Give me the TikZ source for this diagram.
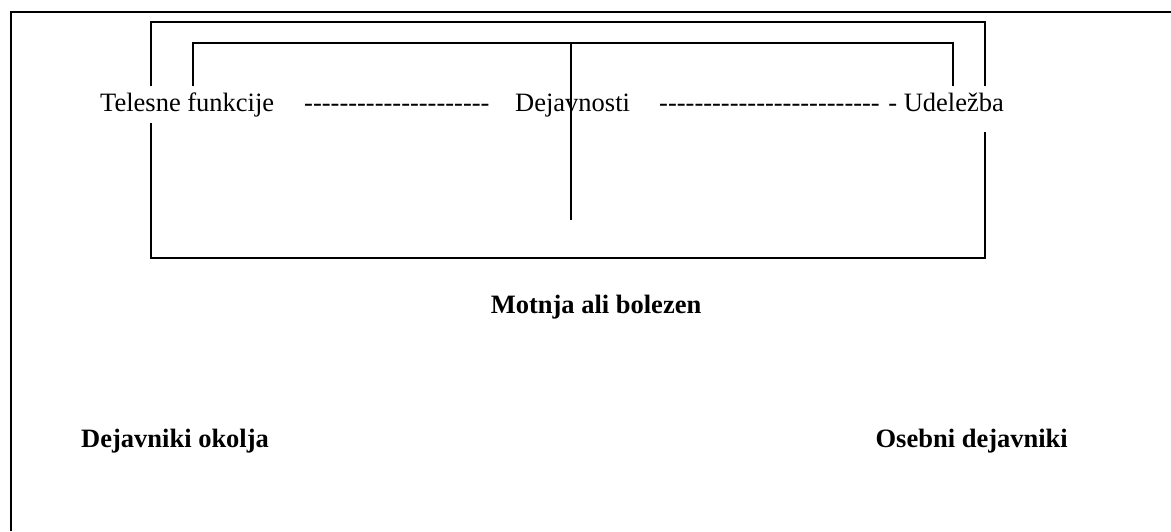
\documentclass[tikz,border=0pt]{standalone}
\usepackage{fontspec}
\setmainfont{Liberation Serif}[Ligatures=TeXOff]
\begin{document}
\begin{tikzpicture}[x=1pt,y=-1pt,
  label/.style={inner sep=0pt,font=\fontsize{26.5}{30}\selectfont},
  boldlabel/.style={inner sep=0pt,font=\fontsize{26.5}{30}\selectfont\bfseries},
  frameline/.style={line width=2pt},
  boxline/.style={line width=1.8pt},
  linkline/.style={line width=1.4pt}]
\useasboundingbox (0,0) rectangle (1171,531);

% page frame (left and top edges)
\draw[frameline] (10.7,531) -- (10.7,12) -- (1171,12);

% ICF components on one line
\node[label,anchor=base west] (tf) at (100,111) {Telesne funkcije};
\node[label,anchor=base west] (d1) at (304,111) {---------------------};
\node[label,anchor=base west] (dej) at (515,111) {Dejavnosti};
\node[label,anchor=base west] (d2) at (659,111) {-------------------------};
\node[label,anchor=base east] (ude) at (1004,111) {- Udeležba};

% outer bracket around the three components
\coordinate (bl1) at (151,86);
\coordinate (bl2) at (151,123);
\coordinate (br1) at (985,86);
\coordinate (br2) at (985,132);
\draw[boxline] (bl1) -- (151,22) -- (985,22) -- (br1);
\draw[boxline] (bl2) -- (151,258) -- (985,258) -- (br2);

% inner bracket linking body functions, activities and participation
\coordinate (il) at (193,86);
\coordinate (ir) at (953,86);
\coordinate (mtop) at (571,43);
\coordinate (mbot) at (571,220);
\draw[linkline] (il) -- (193,43) -- (953,43) -- (ir);
\draw[line width=1.6pt] (mtop) -- (mbot);

% health condition and contextual factors
\node[boldlabel,anchor=base] (mab) at (596,313) {Motnja ali bolezen};
\node[boldlabel,anchor=base west] (dok) at (81,447) {Dejavniki okolja};
\node[boldlabel,anchor=base east] (osd) at (1068,447) {Osebni dejavniki};
\end{tikzpicture}
\end{document}
